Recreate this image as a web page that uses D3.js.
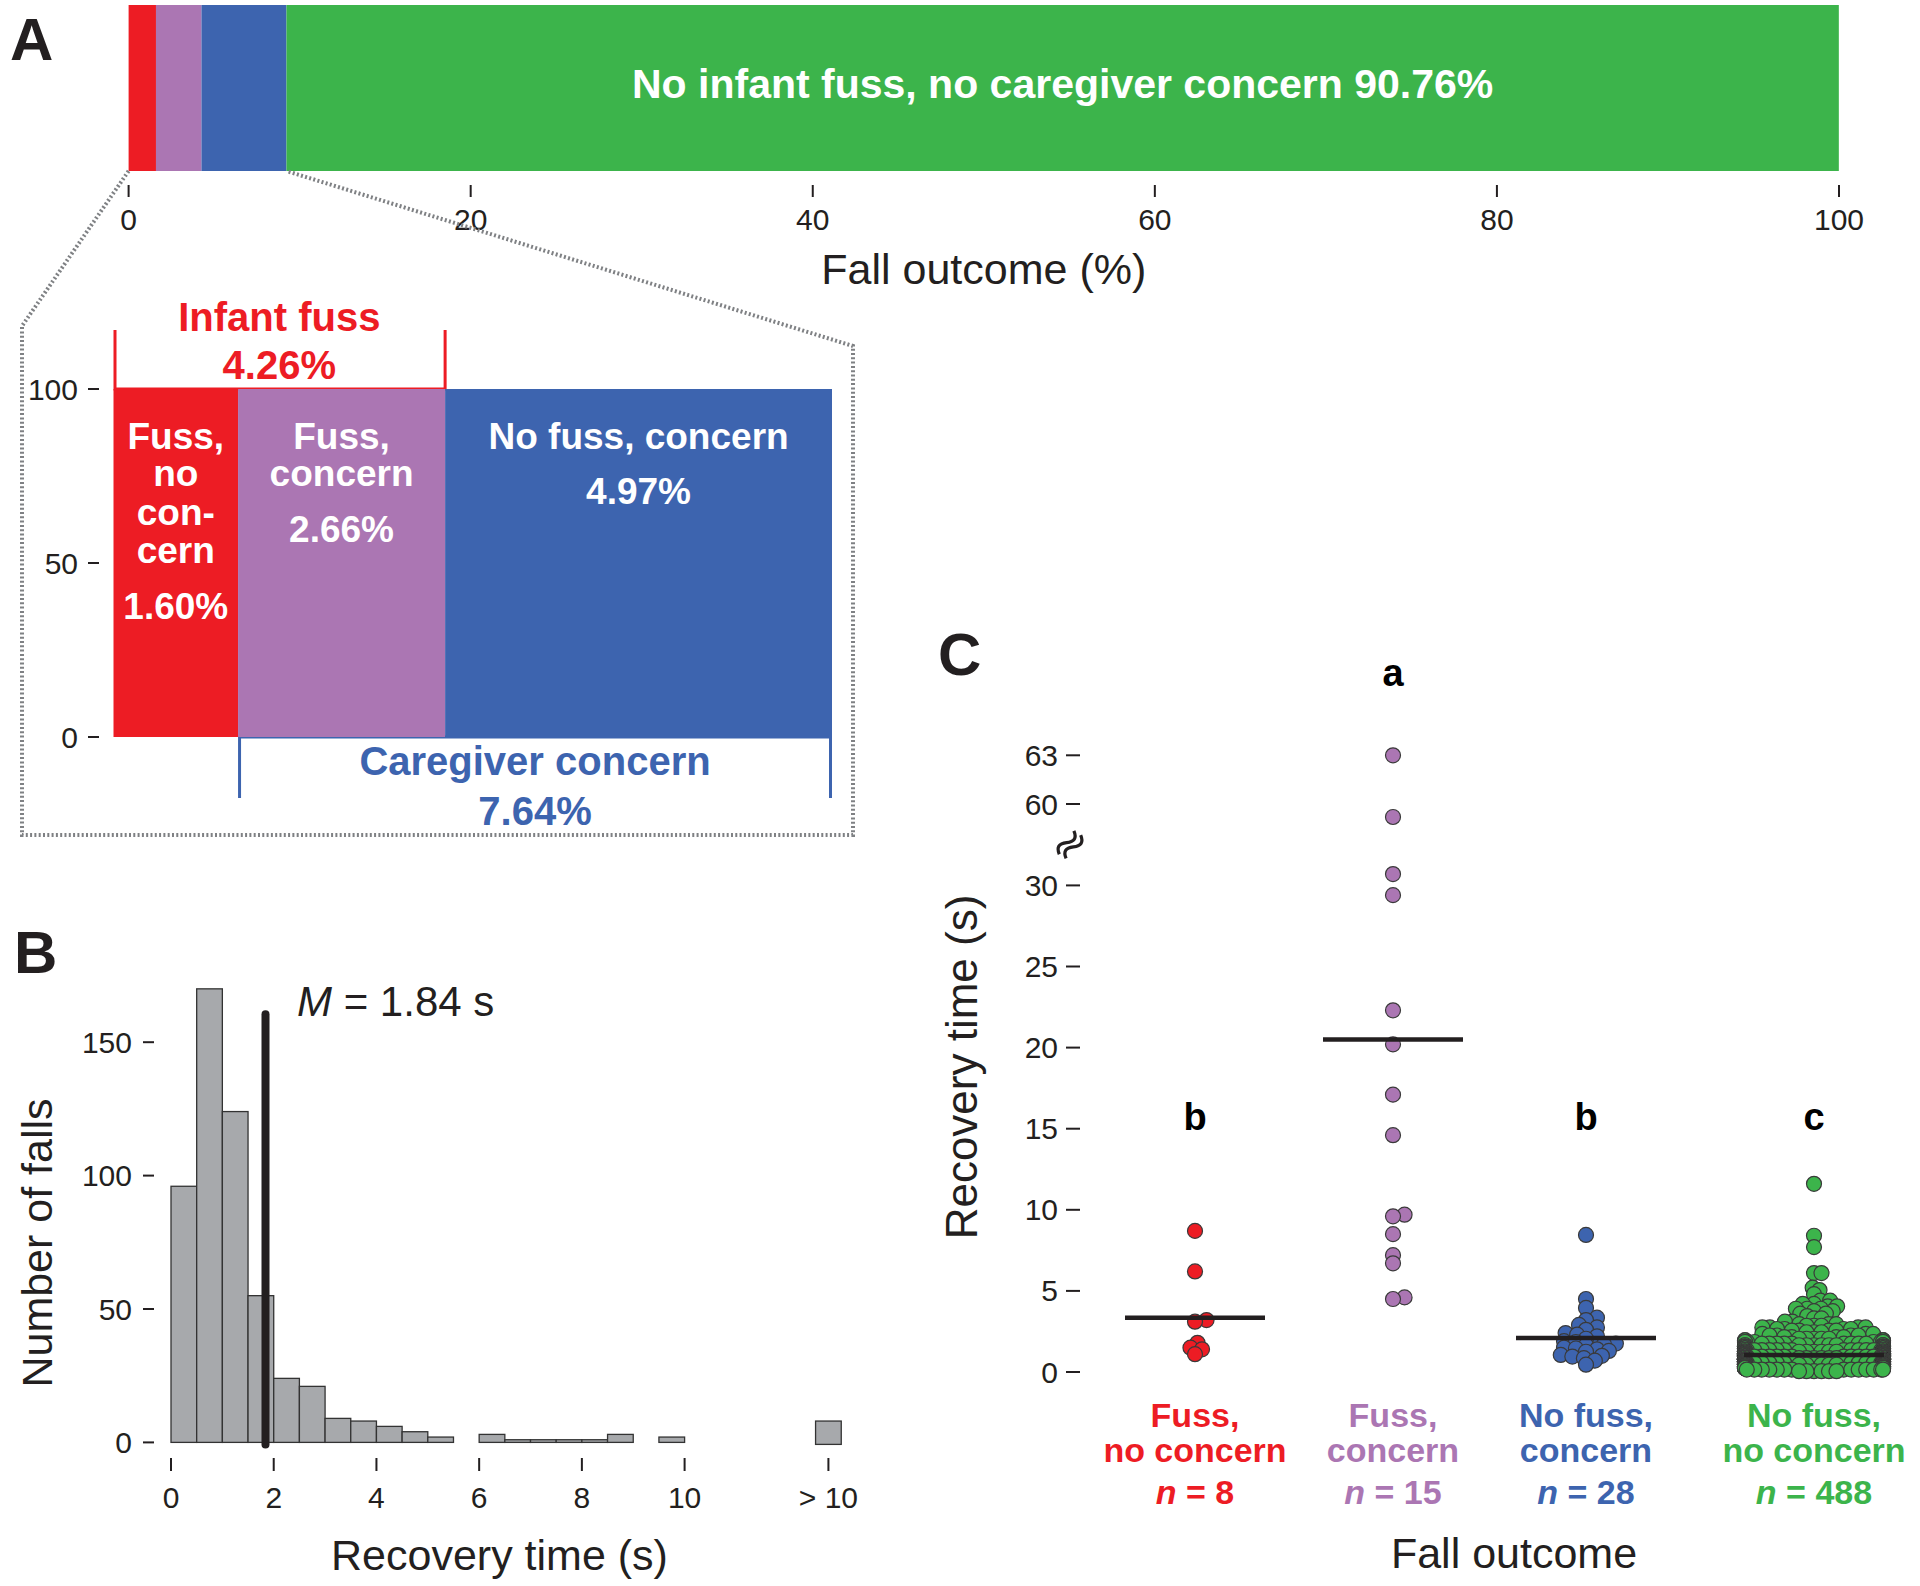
<!DOCTYPE html>
<html>
<head>
<meta charset="utf-8">
<script src="https://cdn.jsdelivr.net/npm/d3@7/dist/d3.min.js"></script>
<style>
  html, body { margin: 0; padding: 0; background: #fff; }
  svg { display: block; font-family: "Liberation Sans", Arial, Helvetica, sans-serif; }
</style>
</head>
<body>
<svg id="fig" width="1920" height="1586"></svg>
<script>
// ---------------- DATA ----------------
const outcomes = ["Fuss, no concern", "Fuss, concern", "No fuss, concern", "No fuss, no concern"];
const outcomePct = [1.60, 2.66, 4.97, 90.76];
const fussPct = 4.26;
const concernPct = 7.64;
const axisATicks = [0, 20, 40, 60, 80, 100];
const insetTicks = [0, 50, 100];

const histBinStart = [0, 0.5, 1, 1.5, 2, 2.5, 3, 3.5, 4, 4.5, 5, 5.5, 6, 6.5, 7, 7.5, 8, 8.5, 9, 9.5];
const histCounts   = [96, 170, 124, 55, 24, 21, 9, 8, 6, 4, 2, 0, 3, 1, 1, 1, 1, 3, 0, 2];
const histOverflowCount = 8;
const histTicks = [0, 2, 4, 6, 8, 10];
const histOverflowLabel = "> 10";
const histYTicks = [0, 50, 100, 150];
const meanRecovery = 1.84;

const redTimes    = [8.7, 6.2, 3.2, 3.1, 1.8, 1.5, 1.4, 1.1];
const purpleTimes = [63.0, 59.2, 30.7, 29.4, 22.3, 20.2, 17.1, 14.6, 9.7, 9.6, 8.5, 7.2, 6.7, 4.6, 4.5];
const blueTimes   = [8.45, 4.5, 3.95, 3.35, 3.2, 2.9, 2.75, 2.6, 2.4, 2.3, 2.2, 2.05, 1.9, 1.85, 1.75, 1.7, 1.65, 1.5, 1.45, 1.4, 1.3, 1.25, 1.05, 1.0, 0.95, 0.85, 0.7, 0.45];
// green group read as (time, number of falls) pairs
const greenTimes  = [0.05, 0.15, 0.25, 0.35, 0.45, 0.55, 0.65, 0.75, 0.85, 0.95, 1.05, 1.15, 1.25, 1.35, 1.45, 1.55, 1.65, 1.75, 1.85, 1.95, 2.05, 2.15, 2.25, 2.35, 2.45, 2.55, 2.65, 2.75, 2.85, 2.95, 3.1, 3.3, 3.45, 3.6, 3.75, 3.9, 4.05, 4.2, 4.4, 4.8, 5.05, 5.2, 6.1, 7.7, 8.4, 11.6];
const greenCounts = [6, 14, 21, 26, 28, 30, 34, 35, 35, 31, 30, 27, 23, 20, 16, 13, 11, 9, 8, 7, 5, 4, 4, 3, 3, 4, 4, 4, 3, 3, 2, 2, 1, 2, 2, 3, 2, 2, 2, 1, 1, 1, 2, 1, 1, 1];
const groupMeans = [3.35, 20.5, 2.1, 1.05];
const groupLetters = ["b", "a", "b", "c"];
const groupN = [8, 15, 28, 488];
const groupLabelLines = [["Fuss,", "no concern"], ["Fuss,", "concern"], ["No fuss,", "concern"], ["No fuss,", "no concern"]];
const cTicksLow = [0, 5, 10, 15, 20, 25, 30];
const cTicksHigh = [60, 63];

// ---------------- STYLE / LAYOUT ----------------
const colors = ["#ed1c24", "#ab76b3", "#3d64af", "#3cb44b"];
const ink = "#231f20";
const svg = d3.select("#fig");

function txt(g, x, y, s, opt = {}) {
  const t = g.append("text").attr("x", x).attr("y", y).text(s)
    .attr("font-size", opt.size || 30)
    .attr("font-weight", opt.bold ? "bold" : "normal")
    .attr("fill", opt.fill || ink)
    .attr("text-anchor", opt.anchor || "middle");
  if (opt.baseline) t.attr("dominant-baseline", opt.baseline);
  if (opt.italic) t.attr("font-style", "italic");
  return t;
}

// ================= PANEL A =================
const gA = svg.append("g");
const xA = d3.scaleLinear().domain([0, 100]).range([128.6, 1839]);
const barTop = 5, barBot = 171;
const cum = [];
outcomePct.reduce((acc, v, i) => { cum[i] = acc; return acc + v; }, 0);

gA.selectAll("rect.seg").data(outcomePct).join("rect")
  .attr("x", (d, i) => xA(cum[i]))
  .attr("y", barTop)
  .attr("width", d => xA(d) - xA(0))
  .attr("height", barBot - barTop)
  .attr("fill", (d, i) => colors[i]);

txt(gA, xA(cum[3] + outcomePct[3] / 2), 84,
  "No infant fuss, no caregiver concern " + outcomePct[3].toFixed(2) + "%",
  { size: 41, bold: true, fill: "#fff", baseline: "central" });

gA.selectAll("line.tk").data(axisATicks).join("line")
  .attr("x1", d => xA(d)).attr("x2", d => xA(d))
  .attr("y1", 185).attr("y2", 197)
  .attr("stroke", ink).attr("stroke-width", 2);
gA.selectAll("text.tk").data(axisATicks).join("text")
  .attr("x", d => xA(d)).attr("y", 230)
  .attr("text-anchor", "middle").attr("font-size", 30).attr("fill", ink)
  .text(d => d);
txt(gA, xA(50), 284, "Fall outcome (%)", { size: 43 });
txt(gA, 10, 60, "A", { size: 60, bold: true, anchor: "start" });

// zoom outline (dotted)
const boxL = 22, boxR = 853, boxB = 835;
const zoomEnd = cum[2] + outcomePct[2];
gA.append("path")
  .attr("d", `M${xA(0)},${barBot} L${boxL},326 L${boxL},${boxB} L${boxR},${boxB} L${boxR},346 L${xA(zoomEnd)},${barBot}`)
  .attr("fill", "none").attr("stroke", "#7f8184").attr("stroke-width", 4)
  .attr("stroke-dasharray", "2,2.3");

// inset
const xI = d3.scaleLinear().domain([0, zoomEnd]).range([113.5, 832]);
const yI = d3.scaleLinear().domain([0, 100]).range([737, 389]);

// brackets
gA.append("path")
  .attr("d", `M${xI(0) + 1.5},330 V${yI(100)} H${xI(fussPct)} V330`)
  .attr("fill", "none").attr("stroke", colors[0]).attr("stroke-width", 3);
gA.append("path")
  .attr("d", `M${xI(outcomePct[0]) + 1.5},798 V${yI(0)} H${xI(zoomEnd) - 1.5} V798`)
  .attr("fill", "none").attr("stroke", colors[2]).attr("stroke-width", 3);

gA.selectAll("rect.ins").data(outcomePct.slice(0, 3)).join("rect")
  .attr("x", (d, i) => xI(cum[i]))
  .attr("y", yI(100))
  .attr("width", d => xI(d) - xI(0))
  .attr("height", yI(0) - yI(100))
  .attr("fill", (d, i) => colors[i]);

gA.selectAll("line.itk").data(insetTicks).join("line")
  .attr("x1", 88).attr("x2", 99).attr("y1", d => yI(d)).attr("y2", d => yI(d))
  .attr("stroke", ink).attr("stroke-width", 2);
gA.selectAll("text.itk").data(insetTicks).join("text")
  .attr("x", 78).attr("y", d => yI(d)).attr("dominant-baseline", "central")
  .attr("text-anchor", "end").attr("font-size", 30).attr("fill", ink)
  .text(d => d);

const insetLines = [
  { lines: ["Fuss,", "no", "con-", "cern", outcomePct[0].toFixed(2) + "%"], ys: [449, 486, 525, 563, 619] },
  { lines: ["Fuss,", "concern", outcomePct[1].toFixed(2) + "%"], ys: [449, 486, 542] },
  { lines: ["No fuss, concern", outcomePct[2].toFixed(2) + "%"], ys: [449, 503.5] }
];
insetLines.forEach((o, i) => {
  const cx = xI(cum[i] + outcomePct[i] / 2);
  o.lines.forEach((s, j) => txt(gA, cx, o.ys[j], s, { size: 37, bold: true, fill: "#fff" }));
});
const fussCx = (xI(0) + xI(fussPct)) / 2;
txt(gA, fussCx, 331, "Infant fuss", { size: 40, bold: true, fill: colors[0] });
txt(gA, fussCx, 379, fussPct.toFixed(2) + "%", { size: 40, bold: true, fill: colors[0] });
const concCx = (xI(outcomePct[0]) + xI(zoomEnd)) / 2;
txt(gA, concCx, 775, "Caregiver concern", { size: 40, bold: true, fill: colors[2] });
txt(gA, concCx, 825, concernPct.toFixed(2) + "%", { size: 40, bold: true, fill: colors[2] });

// ================= PANEL B =================
const gB = svg.append("g");
const xB = d3.scaleLinear().domain([0, 10]).range([171, 684.6]);
const yB = d3.scaleLinear().domain([0, 150]).range([1442.4, 1042.2]);
const binW = 0.5;
const overflowPos = 12.8;

gB.selectAll("rect.bin").data(histCounts.map((c, i) => ({ x0: histBinStart[i], c })).filter(d => d.c > 0))
  .join("rect")
  .attr("x", d => xB(d.x0)).attr("y", d => yB(d.c))
  .attr("width", xB(binW) - xB(0)).attr("height", d => yB(0) - yB(d.c))
  .attr("fill", "#a7a9ac").attr("stroke", "#333").attr("stroke-width", 1.3);
gB.append("rect")
  .attr("x", xB(overflowPos - binW / 2)).attr("y", yB(histOverflowCount))
  .attr("width", xB(binW) - xB(0)).attr("height", yB(0) - yB(histOverflowCount) + 2)
  .attr("fill", "#a7a9ac").attr("stroke", "#333").attr("stroke-width", 1.3);

gB.append("line")
  .attr("x1", xB(meanRecovery)).attr("x2", xB(meanRecovery))
  .attr("y1", yB(160.5)).attr("y2", yB(0) + 2)
  .attr("stroke", ink).attr("stroke-width", 8).attr("stroke-linecap", "round");
const mt = gB.append("text").attr("x", 297).attr("y", 1016).attr("font-size", 42).attr("fill", ink);
mt.append("tspan").attr("font-style", "italic").text("M");
mt.append("tspan").text(" = " + meanRecovery + " s");

const xTickPos = histTicks.map(d => ({ p: d, s: String(d) })).concat([{ p: overflowPos, s: histOverflowLabel }]);
gB.selectAll("line.xt").data(xTickPos).join("line")
  .attr("x1", d => xB(d.p)).attr("x2", d => xB(d.p)).attr("y1", 1458).attr("y2", 1471)
  .attr("stroke", ink).attr("stroke-width", 2);
gB.selectAll("text.xt").data(xTickPos).join("text")
  .attr("x", d => xB(d.p)).attr("y", 1508).attr("text-anchor", "middle")
  .attr("font-size", 30).attr("fill", ink).text(d => d.s);
gB.selectAll("line.yt").data(histYTicks).join("line")
  .attr("x1", 143).attr("x2", 154).attr("y1", d => yB(d)).attr("y2", d => yB(d))
  .attr("stroke", ink).attr("stroke-width", 2);
gB.selectAll("text.yt").data(histYTicks).join("text")
  .attr("x", 132).attr("y", d => yB(d)).attr("dominant-baseline", "central")
  .attr("text-anchor", "end").attr("font-size", 30).attr("fill", ink).text(d => d);
txt(gB, 499.5, 1570, "Recovery time (s)", { size: 43 });
txt(gB, 0, 0, "Number of falls", { size: 43 }).attr("transform", "translate(52,1243) rotate(-90)");
txt(gB, 14, 973, "B", { size: 60, bold: true, anchor: "start" });

// ================= PANEL C =================
const gC = svg.append("g");
const yLow = d3.scaleLinear().domain([0, 30]).range([1372, 885.4]);
const yHigh = d3.scaleLinear().domain([60, 63]).range([804, 755.3]);
const yC = v => (v < 45 ? yLow(v) : yHigh(v));
const xC = d3.scaleOrdinal().domain(outcomes).range([1195, 1393, 1586, 1814]);

txt(gC, 938, 675, "C", { size: 60, bold: true, anchor: "start" });
const cTicks = cTicksLow.concat(cTicksHigh);
gC.selectAll("line.ct").data(cTicks).join("line")
  .attr("x1", 1066).attr("x2", 1080).attr("y1", d => yC(d)).attr("y2", d => yC(d))
  .attr("stroke", ink).attr("stroke-width", 2);
gC.selectAll("text.ct").data(cTicks).join("text")
  .attr("x", 1058).attr("y", d => yC(d)).attr("dominant-baseline", "central")
  .attr("text-anchor", "end").attr("font-size", 30).attr("fill", ink).text(d => d);
// axis break mark
const brk = gC.append("g").attr("transform", `translate(1070,${(yLow(30) + yHigh(60)) / 2}) rotate(-58) scale(1.25)`);
[-3.2, 3.2].forEach(o => {
  brk.append("path").attr("d", `M-11,${o} c3.5,-5 7,-5 11,0 s7.5,5 11,0`)
    .attr("fill", "none").attr("stroke", ink).attr("stroke-width", 2.6);
});
txt(gC, 0, 0, "Recovery time (s)", { size: 44 }).attr("transform", "translate(977,1067) rotate(-90)");

// swarm layout with elliptical spacing (ax horizontal, by vertical), gutter at maxOff
function swarm(vals, ax, by, maxOff) {
  const pts = vals.map(v => ({ v, y: yC(v), ux: 0 }));
  const order = pts.slice().sort((a, b) => a.v - b.v);
  const placed = [];
  for (const p of order) {
    const near = placed.filter(q => Math.abs(q.y - p.y) < by);
    const cands = [0];
    for (const q of near) {
      const t = (q.y - p.y) / by;
      const dx = ax * Math.sqrt(Math.max(0, 1 - t * t));
      cands.push(q.ux + dx, q.ux - dx);
    }
    cands.sort((a, b) => Math.abs(a) - Math.abs(b));
    let chosen = 0;
    for (const c of cands) {
      let ok = true;
      for (const q of near) {
        const dx = (c - q.ux) / ax, dy = (p.y - q.y) / by;
        if (dx * dx + dy * dy < 0.999) { ok = false; break; }
      }
      if (ok) { chosen = c; break; }
    }
    p.ux = chosen;
    placed.push(p);
  }
  pts.forEach(p => { p.x = Math.max(-maxOff, Math.min(maxOff, p.ux)); });
  return pts;
}

const greenAll = [];
greenTimes.forEach((t, i) => { for (let k = 0; k < greenCounts[i]; k++) greenAll.push(t); });
const groups = [redTimes, purpleTimes, blueTimes, greenAll];
const ptR = 7.5;
const swarmAx = [12, 12, 12, 7.5];
const swarmBy = 6;

groups.forEach((vals, gi) => {
  const pts = swarm(vals, swarmAx[gi], swarmBy, 69).sort((a, b) => b.v - a.v);
  const cx = xC(outcomes[gi]);
  gC.append("g").selectAll("circle").data(pts).join("circle")
    .attr("cx", d => cx + d.x).attr("cy", d => d.y).attr("r", ptR)
    .attr("fill", colors[gi]).attr("stroke", "#3a3a3a").attr("stroke-width", 1.2);
  gC.append("line")
    .attr("x1", cx - 70).attr("x2", cx + 70)
    .attr("y1", yC(groupMeans[gi])).attr("y2", yC(groupMeans[gi]))
    .attr("stroke", ink).attr("stroke-width", 4.5);
});

const letterY = [1130, 686, 1130, 1130];
outcomes.forEach((o, gi) => {
  const cx = xC(o);
  txt(gC, cx, letterY[gi], groupLetters[gi], { size: 38, bold: true, fill: "#000" });
  txt(gC, cx, 1427, groupLabelLines[gi][0], { size: 34, bold: true, fill: colors[gi] });
  txt(gC, cx, 1462, groupLabelLines[gi][1], { size: 34, bold: true, fill: colors[gi] });
  const nt = gC.append("text").attr("x", cx).attr("y", 1504).attr("text-anchor", "middle")
    .attr("font-size", 34).attr("font-weight", "bold").attr("fill", colors[gi]);
  nt.append("tspan").attr("font-style", "italic").text("n");
  nt.append("tspan").text(" = " + groupN[gi]);
});
txt(gC, 1514, 1568, "Fall outcome", { size: 43 });
</script>
</body>
</html>
